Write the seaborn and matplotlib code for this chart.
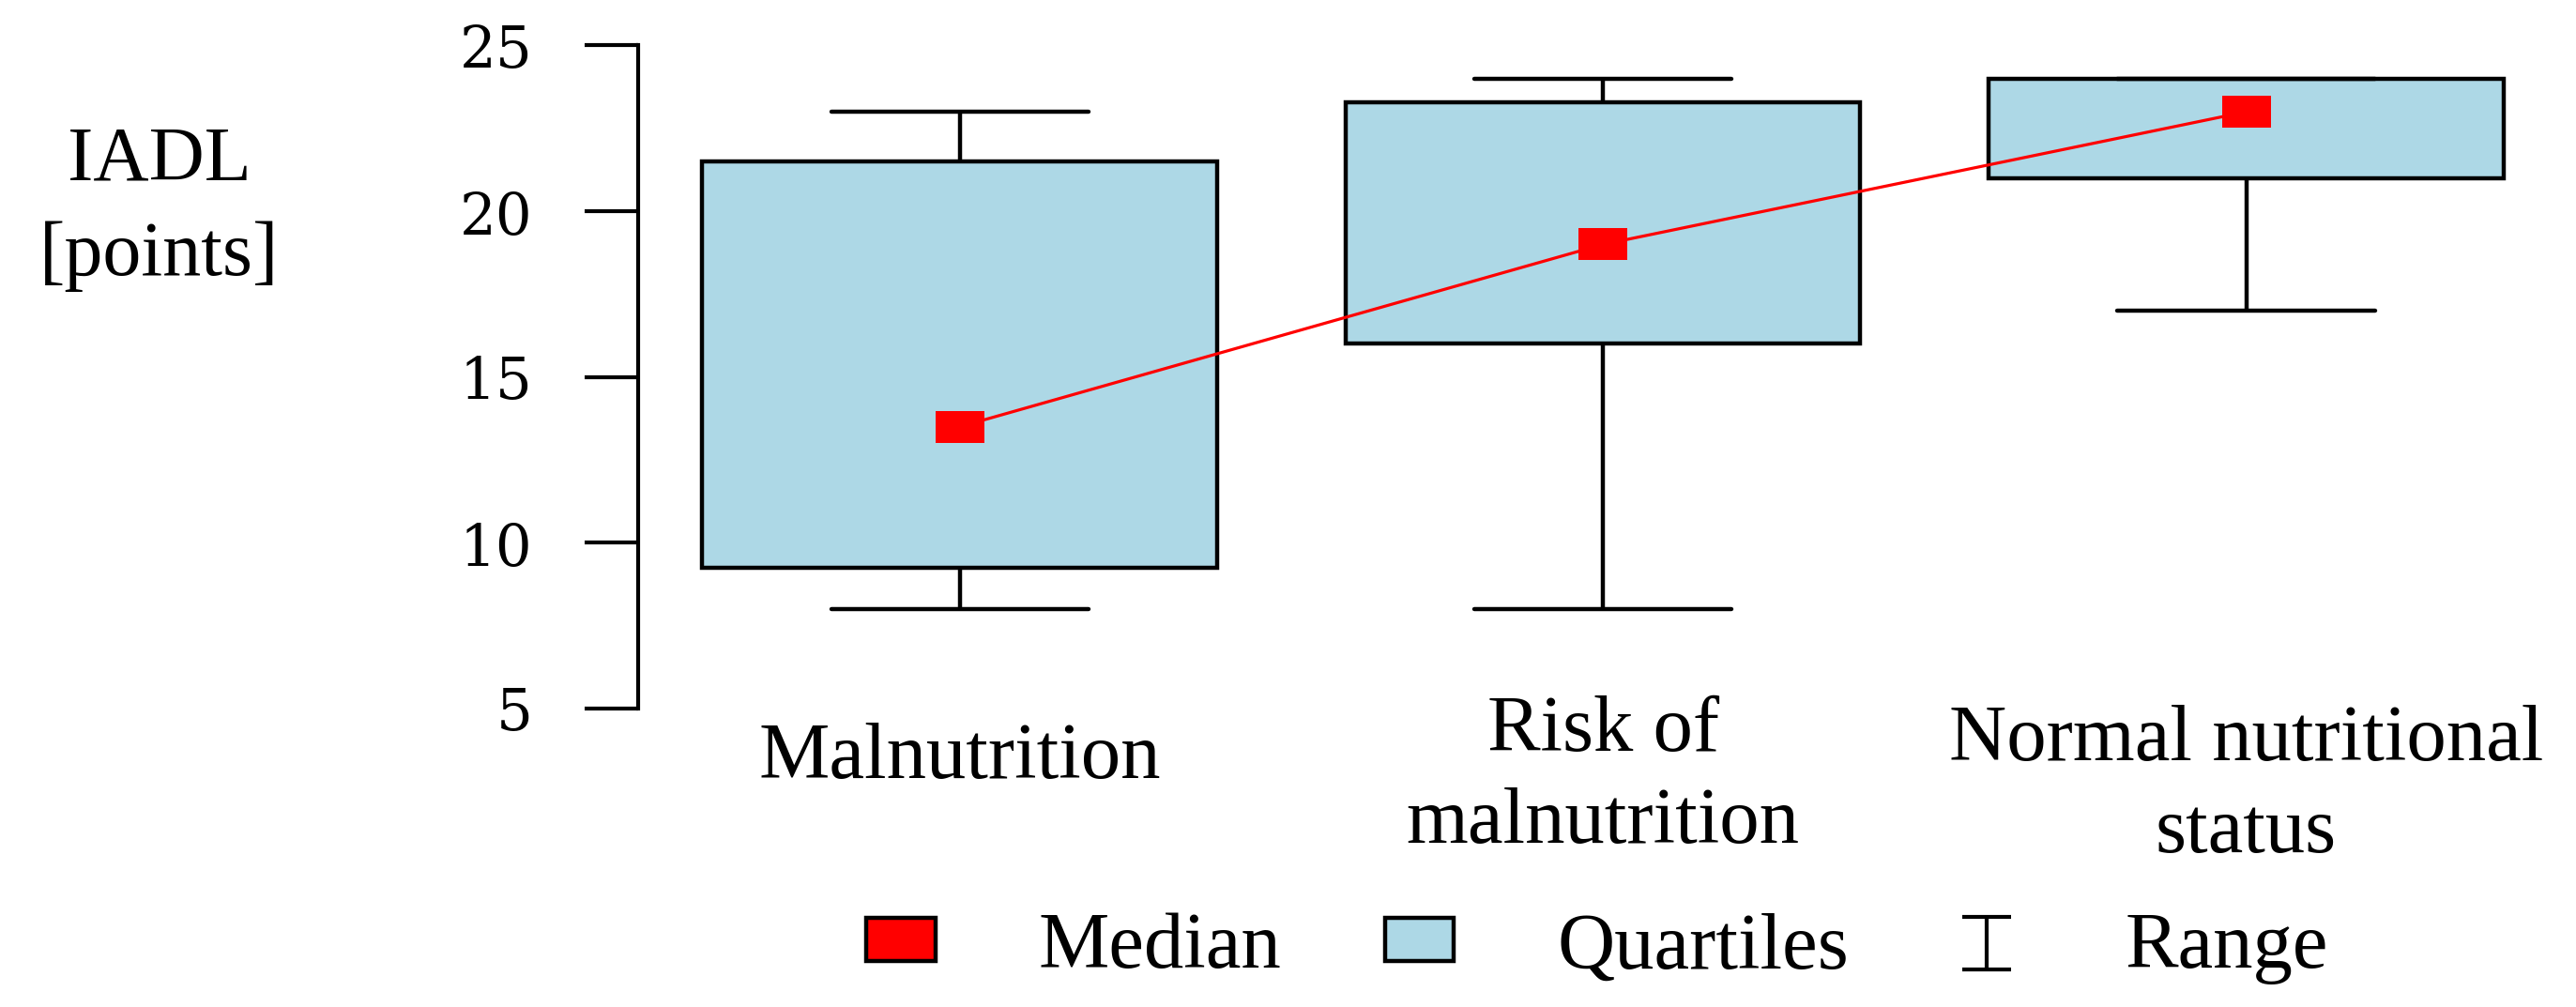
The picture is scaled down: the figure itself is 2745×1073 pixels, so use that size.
import pandas as pd
import numpy as np
import matplotlib
matplotlib.use("Agg")
import matplotlib.pyplot as plt
import matplotlib.patches as mpatches
from matplotlib.lines import Line2D
from matplotlib.path import Path
import seaborn as sns

# Values (IADL points)
categories = ["Malnutrition", "Risk of\nmalnutrition", "Normal nutritional\nstatus"]
minimum = [8, 8, 17]
q1 = [9.25, 16, 21]
median = [13.5, 19, 23]
q3 = [21.5, 23.3, 24]
maximum = [23, 24, 24]
y_ticks = [5, 10, 15, 20, 25]
legend_labels = ["Median", "Quartiles", "Range"]

# five points per group give exact quartiles with linear percentiles
rows = []
for i, cat in enumerate(categories):
    for v in [minimum[i], q1[i], median[i], q3[i], maximum[i]]:
        rows.append({"group": cat, "iadl": v})
df = pd.DataFrame(rows)

sns.set_theme(style="white")
plt.rcParams["font.family"] = ["Liberation Serif", "DejaVu Serif"]
plt.rcParams["text.color"] = "black"
plt.rcParams["axes.labelcolor"] = "black"
plt.rcParams["xtick.color"] = "black"
plt.rcParams["ytick.color"] = "black"

fig = plt.figure(figsize=(27.45, 10.73), dpi=100)
ax = fig.add_axes([0.2477, 0.2964, 0.7491, 0.6584])

sns.boxplot(data=df, x="group", y="iadl", order=categories, ax=ax,
            color="lightblue", saturation=1, width=0.8, whis=(0, 100),
            linecolor="black", linewidth=3.2, fliersize=0,
            medianprops={"visible": False})

rect = Path([(-1, -0.65), (1, -0.65), (1, 0.65), (-1, 0.65), (-1, -0.65)], closed=True)
sns.pointplot(x=categories, y=median, order=categories, ax=ax, color="red",
              errorbar=None, marker=rect, markersize=37, linewidth=2.3,
              markeredgewidth=0, zorder=5)

ax.set_xlim(-0.5, 2.5)
ax.set_ylim(5, 25)
ax.set_yticks(y_ticks)
ax.set_xlabel("")
ax.set_ylabel("IADL\n[points]", rotation=0, fontsize=59, ha="center", va="center",
              linespacing=1.45)
ax.yaxis.set_label_coords(-0.248, 0.754)

for s in ["top", "right", "bottom"]:
    ax.spines[s].set_visible(False)
ax.spines["left"].set_color("black")
ax.spines["left"].set_linewidth(3)

ax.tick_params(axis="y", direction="out", length=41, width=3, pad=40,
               labelsize=44, colors="black", left=True)
for lab in ax.get_yticklabels():
    lab.set_family(["DejaVu Serif"])
ax.tick_params(axis="x", length=0, labelsize=61, colors="black")
ax.set_xticks(range(len(categories)))
ax.set_xticklabels(categories, linespacing=1.36)
for tick, pad in zip(ax.xaxis.get_major_ticks(), [11, -10, -3]):
    tick.set_pad(pad)

ibeam = Path([(-0.95, 1), (0.95, 1), (0, 1), (0, -1), (-0.95, -1), (0.95, -1)],
             [Path.MOVETO, Path.LINETO, Path.MOVETO, Path.LINETO, Path.MOVETO, Path.LINETO])
handles = [
    mpatches.Patch(facecolor="red", edgecolor="black", linewidth=3.2),
    mpatches.Patch(facecolor="lightblue", edgecolor="black", linewidth=3.2),
    Line2D([], [], linestyle="none", marker=ibeam, markersize=40,
           markerfacecolor="none", markeredgecolor="black", markeredgewidth=3),
]
fig.legend(handles, legend_labels, loc="center", bbox_to_anchor=(0.62, 0.058),
           ncol=3, frameon=False, fontsize=61, handlelength=0.87, handleheight=0.47,
           handletextpad=1.3, columnspacing=1.3)

fig.savefig("out.png", dpi=100)
